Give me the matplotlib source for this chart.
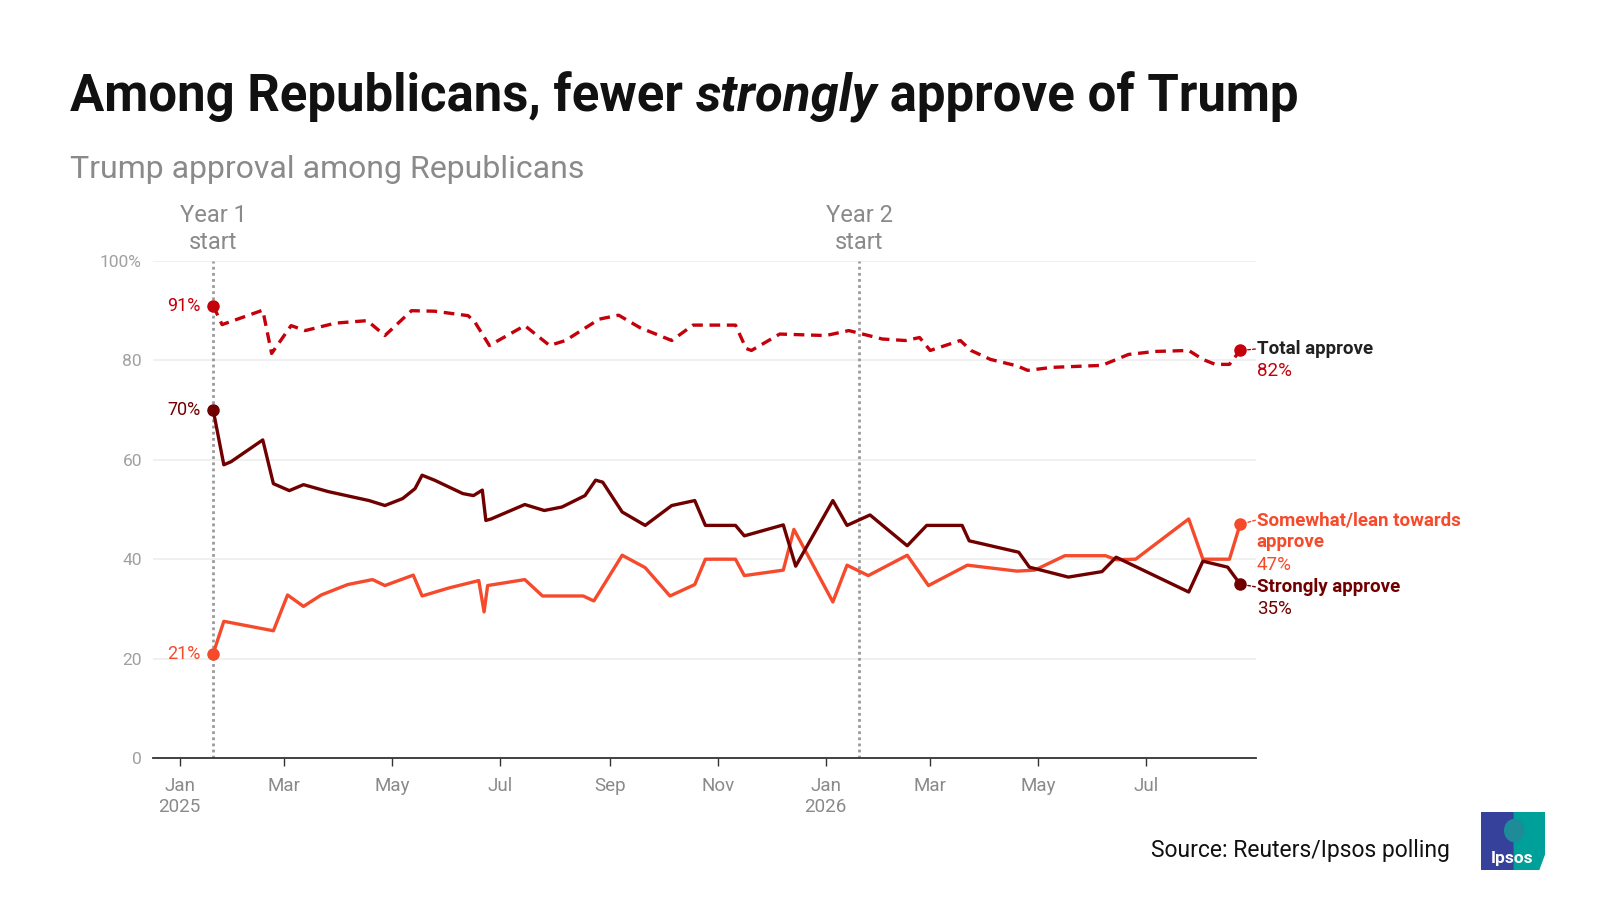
import matplotlib
matplotlib.use("Agg")
import matplotlib.pyplot as plt
from matplotlib.patches import Polygon, Ellipse
import pandas as pd

plt.rcParams['font.family'] = ['Roboto', 'DejaVu Sans']

# ---- data ----
total_dates = ['2025-01-20', '2025-01-25', '2025-02-17', '2025-02-22', '2025-03-05', '2025-03-13',
               '2025-03-30', '2025-04-17', '2025-04-27', '2025-05-12', '2025-05-25', '2025-06-13',
               '2025-06-17', '2025-06-25', '2025-07-15', '2025-07-29', '2025-08-07', '2025-08-26',
               '2025-09-06', '2025-09-18', '2025-10-06', '2025-10-18', '2025-11-11', '2025-11-17',
               '2025-11-20', '2025-12-06', '2026-01-01', '2026-01-14', '2026-02-02', '2026-02-15',
               '2026-02-23', '2026-03-01', '2026-03-18', '2026-03-24', '2026-04-04', '2026-04-19',
               '2026-04-25', '2026-05-09', '2026-06-06', '2026-06-21', '2026-07-06', '2026-07-25',
               '2026-08-02', '2026-08-09', '2026-08-17', '2026-08-23']
total_vals = [91, 87.2, 90.1, 81.4, 87.0, 86, 87.5, 88, 85, 90, 89.9, 89,
              87.6, 83, 87, 83, 84, 88.3, 89.1, 86.6, 84, 87.1, 87.1, 82.4,
              82, 85.3, 85, 86, 84.3, 84, 84.6, 82, 84, 82, 80.2, 78.9,
              78, 78.6, 79, 81.2, 81.8, 82, 80.2, 79.2, 79.2, 82]

strong_dates = ['2025-01-20', '2025-01-26', '2025-01-30', '2025-02-17', '2025-02-23', '2025-03-04',
                '2025-03-12', '2025-03-26', '2025-04-18', '2025-04-27', '2025-05-07', '2025-05-14',
                '2025-05-18', '2025-05-25', '2025-06-10', '2025-06-16', '2025-06-21', '2025-06-23',
                '2025-06-26', '2025-07-15', '2025-07-26', '2025-08-05', '2025-08-18', '2025-08-24',
                '2025-08-28', '2025-09-08', '2025-09-21', '2025-10-06', '2025-10-19', '2025-10-25',
                '2025-11-11', '2025-11-16', '2025-12-08', '2025-12-15', '2026-01-05', '2026-01-13',
                '2026-01-26', '2026-02-16', '2026-02-27', '2026-03-19', '2026-03-23', '2026-04-20',
                '2026-04-26', '2026-05-18', '2026-06-06', '2026-06-14', '2026-07-25', '2026-08-02',
                '2026-08-16', '2026-08-23']
strong_vals = [70, 59, 59.6, 64, 55.2, 53.8, 55, 53.6, 51.8, 50.8, 52.2, 54.2,
               56.9, 55.9, 53.2, 52.8, 53.9, 47.8, 48.1, 51, 49.8, 50.5, 52.8, 55.9,
               55.5, 49.5, 46.8, 50.8, 51.8, 46.8, 46.8, 44.7, 46.9, 38.6, 51.8, 46.8,
               48.9, 42.7, 46.8, 46.8, 43.7, 41.4, 38.4, 36.4, 37.5, 40.4, 33.4, 39.6,
               38.4, 35]

some_dates = ['2025-01-20', '2025-01-26', '2025-02-23', '2025-03-03', '2025-03-12', '2025-03-22',
              '2025-04-06', '2025-04-20', '2025-04-27', '2025-05-13', '2025-05-18', '2025-06-02',
              '2025-06-19', '2025-06-22', '2025-06-24', '2025-07-15', '2025-07-25', '2025-08-17',
              '2025-08-23', '2025-09-08', '2025-09-21', '2025-10-05', '2025-10-19', '2025-10-25',
              '2025-11-11', '2025-11-16', '2025-12-08', '2025-12-14', '2026-01-05', '2026-01-13',
              '2026-01-25', '2026-02-16', '2026-02-28', '2026-03-22', '2026-04-19', '2026-04-29',
              '2026-05-16', '2026-06-08', '2026-06-14', '2026-06-25', '2026-07-25', '2026-08-02',
              '2026-08-17', '2026-08-23']
some_vals = [21, 27.5, 25.6, 32.8, 30.5, 32.8, 34.9, 35.9, 34.7, 36.8, 32.6, 34.2,
             35.7, 29.4, 34.7, 35.9, 32.6, 32.6, 31.6, 40.8, 38.3, 32.6, 34.9, 40,
             40, 36.7, 37.8, 46, 31.4, 38.8, 36.7, 40.8, 34.7, 38.8, 37.6, 37.8,
             40.7, 40.7, 39.9, 40, 48.1, 40, 40, 47]

year_starts = ['2025-01-20', '2026-01-20']
year_labels = ['Year 1\nstart', 'Year 2\nstart']

month_ticks = ['2025-01-01', '2025-03-01', '2025-05-01', '2025-07-01', '2025-09-01', '2025-11-01',
               '2026-01-01', '2026-03-01', '2026-05-01', '2026-07-01']
month_labels = ['Jan\n2025', 'Mar', 'May', 'Jul', 'Sep', 'Nov', 'Jan\n2026', 'Mar', 'May', 'Jul']

y_ticks = [0, 20, 40, 60, 80, 100]
y_labels = ['0', '20', '40', '60', '80', '100%']

C_TOTAL = '#c4000b'
C_STRONG = '#700000'
C_SOME = '#f64a2c'
GREY = '#8a8a8a'

fig = plt.figure(figsize=(16, 9), dpi=100)
ax = fig.add_axes([153 / 1600, 1 - 758 / 900, (1256 - 153) / 1600, (758 - 261) / 900])

td = pd.to_datetime(total_dates)
sd = pd.to_datetime(strong_dates)
od = pd.to_datetime(some_dates)

ax.plot(td, total_vals, color=C_TOTAL, lw=2.4, dashes=(3.2, 2.0), solid_joinstyle='round', zorder=3)
ax.plot(od, some_vals, color=C_SOME, lw=2.4, solid_joinstyle='round', zorder=3)
ax.plot(sd, strong_vals, color=C_STRONG, lw=2.4, solid_joinstyle='round', zorder=4)

for d, v, c in [(td, total_vals, C_TOTAL), (sd, strong_vals, C_STRONG), (od, some_vals, C_SOME)]:
    ax.plot([d[0], d[-1]], [v[0], v[-1]], 'o', color=c, ms=8, zorder=5)
    ax.annotate(f"{v[0]:.0f}%", (d[0], v[0]), xytext=(-9, 0), textcoords='offset points',
                ha='right', va='center', fontsize=13, color=c)

# end labels: one annotation per line, first line level with the end dot
LINE_PT = 16
end_labels = [(['Total approve'], total_vals[-1], '#222222', C_TOTAL, td[-1], 1),
              (['Somewhat/lean towards', 'approve'], some_vals[-1], C_SOME, C_SOME, od[-1], 3),
              (['Strongly approve'], strong_vals[-1], C_STRONG, C_STRONG, sd[-1], -2)]
for lines, v, c_name, c_val, d, dy in end_labels:
    for i, line in enumerate(lines):
        ax.annotate(line, (d, v), xytext=(12, dy - LINE_PT * i), textcoords='offset points',
                    ha='left', va='center', fontsize=13.5, fontweight='bold', color=c_name,
                    annotation_clip=False)
    ax.annotate(f"{v:.0f}%", (d, v), xytext=(12, dy - LINE_PT * len(lines)), textcoords='offset points',
                ha='left', va='center', fontsize=13.5, color=c_val, annotation_clip=False)
    ax.annotate('', (d, v), xytext=(11, dy), textcoords='offset points', annotation_clip=False,
                arrowprops=dict(arrowstyle='-', color=c_val, lw=1, linestyle=(0, (2, 1.5)),
                                shrinkA=0, shrinkB=4))

for d, lab in zip(pd.to_datetime(year_starts), year_labels):
    ax.axvline(d, color='#9a9a9a', lw=2, ls=(0, (1, 1.2)), zorder=2)
    ax.text(d, 101.5, lab, ha='center', va='bottom', fontsize=17, color=GREY, linespacing=1.2)

ax.set_xlim(pd.Timestamp('2024-12-17'), pd.Timestamp('2026-09-01'))
ax.set_ylim(0, 100)
ax.set_yticks(y_ticks)
ax.set_yticklabels(y_labels)
ax.set_xticks(pd.to_datetime(month_ticks))
ax.set_xticklabels(month_labels)

ax.grid(axis='y', color='#eeeeee', lw=1.2)
ax.set_axisbelow(True)
for s in ['top', 'right', 'left']:
    ax.spines[s].set_visible(False)
ax.spines['bottom'].set_color('#333333')
ax.spines['bottom'].set_linewidth(1.3)
ax.tick_params(axis='y', length=0, pad=8, labelsize=12.5, labelcolor='#a0a0a0')
ax.tick_params(axis='x', length=6, width=1, color='#333333', pad=8, labelsize=13.5, labelcolor=GREY)

# title with italic word
fig.canvas.draw()
renderer = fig.canvas.get_renderer()
parts = [('Among Republicans, fewer ', 'normal'), ('strongly', 'italic'), (' approve of Trump', 'normal')]
x = 70 / 1600
for txt, style in parts:
    t = fig.text(x, 1 - 97 / 900, txt, fontsize=36.6, fontweight='bold', style=style,
                 color='#111111', va='center', ha='left')
    bb = t.get_window_extent(renderer)
    x += bb.width / 1600

fig.text(70 / 1600, 1 - 170 / 900, 'Trump approval among Republicans', fontsize=23.0,
         color=GREY, va='center', ha='left')
fig.text(1450 / 1600, 1 - 850 / 900, 'Source: Reuters/Ipsos polling', fontsize=16.5,
         color='#111111', va='center', ha='right')

# Ipsos logo
lax = fig.add_axes([1481 / 1600, 1 - 870 / 900, 64 / 1600, 58 / 900])
lax.set_xlim(0, 1)
lax.set_ylim(0, 1)
lax.axis('off')
lax.add_patch(Polygon([(0, 0), (0.52, 0), (0.52, 1), (0, 1)], closed=True, color='#35419a'))
lax.add_patch(Polygon([(0.52, 0), (0.9, 0), (1, 0.3), (1, 1), (0.52, 1)], closed=True, color='#00a09a'))
lax.add_patch(Ellipse((0.52, 0.68), 0.3, 0.38, color='#1d8c98'))
lax.text(0.48, 0.2, 'Ipsos', color='white', fontsize=12.5, fontweight='bold', ha='center', va='center')

fig.savefig('out.png', dpi=100)
